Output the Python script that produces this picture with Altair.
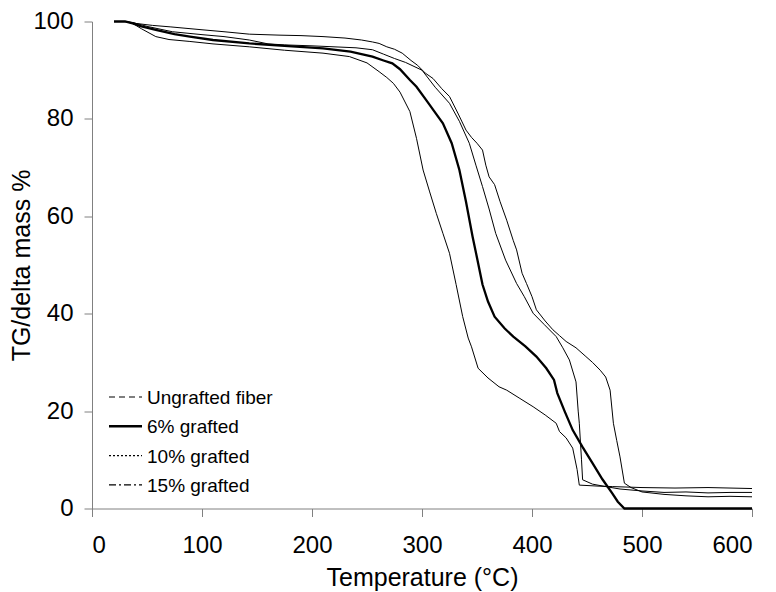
import altair as alt
import pandas as pd

FONT = "Liberation Sans"

# ---- data (temperature °C, TG/delta mass %) ----
ung_T = [20, 30, 37, 45, 58, 70, 89, 110, 143, 175, 210, 234, 250, 261, 268, 274, 280, 289, 295, 301,
         307, 313, 319, 325, 331, 337, 342, 345, 351, 360, 370, 377, 389, 401, 412, 422, 425, 431, 437,
         441, 443, 460, 473, 500, 530, 560, 600]
ung_W = [100, 100, 99.6, 98.5, 96.9, 96.3, 95.9, 95.4, 94.8, 94.1, 93.5, 92.8, 91.5, 89.7, 88.5, 87.3,
         85.5, 81.5, 76, 69.5, 65, 60.6, 56.5, 52.4, 46, 39.4, 35, 33.2, 28.8, 26.8, 25.0, 24.3, 22.6,
         20.9, 19.2, 17.5, 15.8, 14.5, 12.4, 8, 4.8, 4.6, 4.5, 4.3, 4.2, 4.3, 4.1]

g6_T = [20, 30, 37, 45, 58, 75, 89, 110, 143, 175, 210, 235, 255, 265, 273, 280, 289, 295, 305, 312,
        319, 327, 334, 340, 346, 350, 355, 360, 366, 375, 383, 394, 404, 413, 420, 423, 430, 437, 446,
        455, 464, 473, 478, 484, 600]
g6_W = [100, 100, 99.6, 99, 98.3, 97.4, 96.9, 96.2, 95.5, 95, 94.5, 93.8, 92.8, 92, 91.4, 90.2, 88,
        86.6, 83.5, 81.3, 79.1, 75, 69.5, 63, 55.8, 51.5, 46, 42.5, 39.4, 37, 35.3, 33.3, 31.2, 28.8,
        26.4, 23.7, 19.8, 16.1, 12.6, 9.3, 6, 3.1, 1.4, 0, 0]

g10_T = [20, 30, 37, 50, 73, 100, 120, 143, 160, 175, 200, 220, 240, 255, 265, 275, 285, 300, 312,
         325, 334, 343, 349, 355, 361, 367, 376, 386, 393, 401, 411, 422, 428, 434, 440, 442, 443, 445,
         446, 455, 467, 480, 500, 520, 540, 560, 580, 600]
g10_W = [100, 100, 99.8, 99, 97.9, 97.3, 96.9, 96.2, 95.4, 95.2, 95, 94.8, 94.6, 94.2, 93.3, 92.4,
         91.6, 90, 86.5, 83.2, 79.5, 75.0, 70.5, 66.1, 61.5, 56.5, 51, 46.2, 43.5, 40.1, 37.8, 35.3, 33,
         30.5, 26, 20, 17.5, 10, 5.9, 5.0, 4.5, 4.0, 3.6, 3.3, 3.4, 3.2, 3.3, 3.3]

g15_T = [20, 30, 40, 55, 71, 100, 120, 143, 170, 190, 210, 230, 245, 255, 261, 268, 275, 282, 290,
         296, 303, 310, 318, 325, 333, 340, 345, 350, 355, 358, 361, 366, 371, 377, 383, 386, 391, 395,
         400, 404, 412, 419, 425, 431, 440, 449, 455, 462, 467, 471, 474, 477, 480, 484, 490, 500, 520,
         540, 560, 580, 600]
g15_W = [100, 100, 99.6, 99.2, 98.9, 98.3, 97.9, 97.4, 97.2, 97.1, 96.9, 96.6, 96.2, 95.8, 95.5,
         94.8, 94.3, 93.5, 92.0, 91.0, 89.4, 88.3, 86.2, 84.6, 81.0, 77.7, 76.2, 75.0, 73.6, 70.5, 68.1,
         66.5, 63.0, 59.2, 55.0, 53.1, 48.3, 46.2, 43.5, 40.8, 38.5, 36.7, 35.5, 34.3, 33.0, 31.2, 30.0,
         28.4, 27.0, 24.3, 17.5, 14, 10.6, 5.2, 4.3, 3.4, 2.9, 2.6, 2.4, 2.5, 2.4]

series_names = ["Ungrafted fiber", "6% grafted", "10% grafted", "15% grafted"]
x_ticks = [0, 100, 200, 300, 400, 500, 600]
y_ticks = [0, 20, 40, 60, 80, 100]

frames = []
for name, T, W in zip(series_names, [ung_T, g6_T, g10_T, g15_T], [ung_W, g6_W, g10_W, g15_W]):
    frames.append(pd.DataFrame({"series": name, "T": T, "W": W, "order": range(len(T))}))
df = pd.concat(frames, ignore_index=True)

W_PLOT, H_PLOT = 660, 487

x_enc = alt.X("T:Q", scale=alt.Scale(domain=[0, 600], nice=False),
              axis=alt.Axis(values=x_ticks, title="Temperature (°C)", titleY=69,
                            titleBaseline="middle"))
y_enc = alt.Y("W:Q", scale=alt.Scale(domain=[0, 100], nice=False),
              axis=alt.Axis(values=y_ticks, title="TG/delta mass %", titleX=-71,
                            titleBaseline="middle"))

thin = alt.Chart(df).transform_filter(alt.datum.series != "6% grafted").mark_line(
    color="black", strokeWidth=1).encode(x=x_enc, y=y_enc, detail="series:N", order="order:Q")
thick = alt.Chart(df).transform_filter(alt.datum.series == "6% grafted").mark_line(
    color="black", strokeWidth=2.3).encode(x=x_enc, y=y_enc, order="order:Q")

# manual legend (line samples with the reference's dash styles)
dashes = [[6, 4], None, [2, 2], [7, 3, 2, 3]]
widths = [1.2, 2.5, 1.2, 1.2]
legend_layers = []
for i, name in enumerate(series_names):
    yy = 375.5 + 29.3 * i
    kw = dict(color="black", strokeWidth=widths[i])
    if dashes[i] is not None:
        kw["strokeDash"] = dashes[i]
    rule = alt.Chart(pd.DataFrame({"k": [0]})).mark_rule(**kw).encode(
        x=alt.value(17), x2=alt.value(50), y=alt.value(yy))
    txt = alt.Chart(pd.DataFrame({"k": [0]})).mark_text(
        align="left", baseline="middle", font=FONT, fontSize=19, color="black").encode(
        x=alt.value(55), y=alt.value(yy + 1), text=alt.value(name))
    legend_layers += [rule, txt]

chart = alt.layer(thin, thick, *legend_layers).properties(
    width=W_PLOT, height=H_PLOT,
    autosize=alt.AutoSizeParams(type="none"),
    padding={"left": 92, "top": 21.5, "right": 24, "bottom": 84},
).configure_view(stroke=None).configure_axis(
    grid=False,
    domainColor="#808080",
    tickColor="#808080",
    tickSize=8,
    labelFont=FONT, labelFontSize=24, labelColor="black",
    titleFont=FONT, titleFontSize=25, titleFontWeight="normal", titleColor="black",
).configure_axisY(labelPadding=11).configure_axisX(labelPadding=17)

chart.save("out.html", embed_options={"renderer": "svg", "actions": False})
